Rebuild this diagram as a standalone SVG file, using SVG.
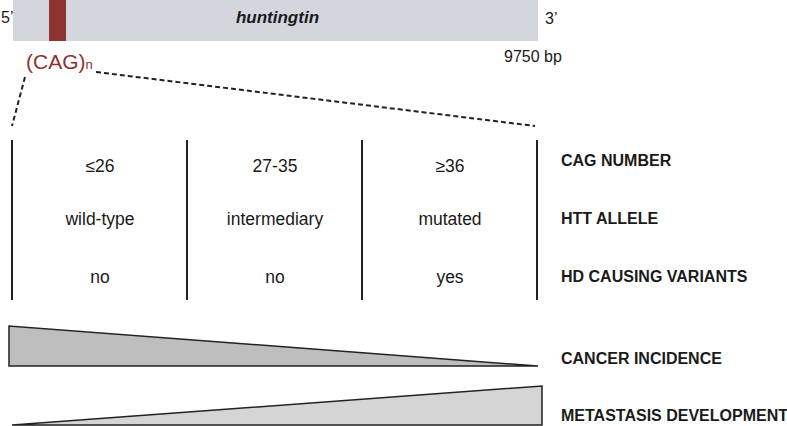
<svg xmlns="http://www.w3.org/2000/svg" width="787" height="426" viewBox="0 0 787 426">
<style>
text{font-family:"Liberation Sans",Arial,sans-serif;fill:#1a1a1a}
.c{font-size:17.5px;text-anchor:middle}
.lab{font-size:16px;font-weight:bold}
.div{stroke:#222;stroke-width:2}
.dot{stroke:#222;stroke-width:2;stroke-dasharray:5,3;fill:none}
</style>
<rect width="787" height="426" fill="#fff"/>
<g id="gene">
<rect x="13" y="0" width="525" height="41" fill="#d3d6dd"/>
<rect x="49" y="0" width="17" height="41" fill="#8f3232"/>
<text x="1" y="23" font-size="16">5’</text>
<text x="545" y="24" font-size="16">3’</text>
<text x="277.5" y="23" font-size="17" font-weight="bold" font-style="italic" text-anchor="middle">huntingtin</text>
<text x="504" y="62" font-size="16">9750 bp</text>
<text x="26" y="69" font-size="21" style="fill:#8f3232">(CAG)<tspan font-size="13">n</tspan></text>
</g>
<g id="connectors">
<line class="dot" x1="25" y1="77" x2="12" y2="126"/>
<line class="dot" x1="96" y1="72" x2="535" y2="126"/>
</g>
<g id="table">
<line class="div" x1="12" y1="140" x2="12" y2="300"/>
<line class="div" x1="187" y1="140" x2="187" y2="300"/>
<line class="div" x1="362" y1="140" x2="362" y2="300"/>
<line class="div" x1="537" y1="140" x2="537" y2="300"/>
<text class="c" x="100" y="172">≤26</text>
<text class="c" x="275" y="172">27-35</text>
<text class="c" x="450" y="172">≥36</text>
<text class="c" x="100" y="225">wild-type</text>
<text class="c" x="275" y="225">intermediary</text>
<text class="c" x="450" y="225">mutated</text>
<text class="c" x="100" y="283">no</text>
<text class="c" x="275" y="283">no</text>
<text class="c" x="450" y="283">yes</text>
<text class="lab" x="561" y="166">CAG NUMBER</text>
<text class="lab" x="561" y="224">HTT ALLELE</text>
<text class="lab" x="561" y="282">HD CAUSING VARIANTS</text>
</g>
<g id="cancer">
<polygon points="9,326 9,366 538,366" fill="#bebebe" stroke="#222" stroke-width="1.5"/>
<text class="lab" x="561" y="364">CANCER INCIDENCE</text>
</g>
<g id="metastasis">
<polygon points="12,425 542,386 542,425" fill="#d5d5d5" stroke="#222" stroke-width="1.5"/>
<text class="lab" x="561" y="421">METASTASIS DEVELOPMENT</text>
</g>
</svg>
